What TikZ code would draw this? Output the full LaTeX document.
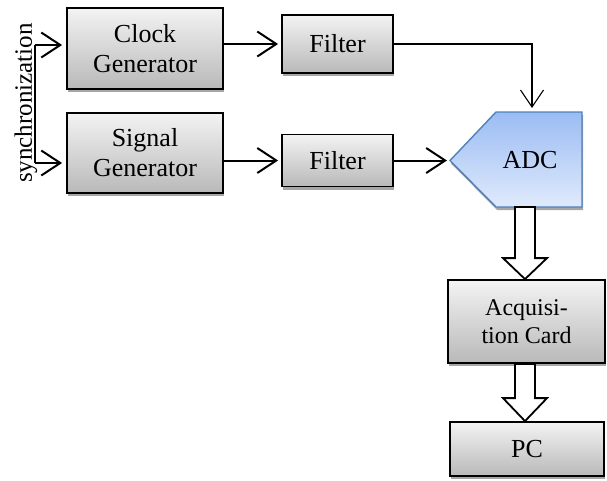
\documentclass[tikz,border=0pt]{standalone}
\usepackage{fontspec}
\setmainfont{Liberation Serif}
\usetikzlibrary{arrows.meta,shadows,calc}
\definecolor{adcborder}{RGB}{79,129,189}
\definecolor{adctop}{RGB}{155,188,243}
\definecolor{adcbot}{RGB}{224,234,252}
\definecolor{boxtop}{RGB}{243,243,243}
\definecolor{boxbot}{RGB}{185,185,185}
\begin{document}
\begin{tikzpicture}[x=1pt,y=-1pt,
  box/.style={draw=black, line width=1.8pt, top color=boxtop, bottom color=boxbot,
    inner sep=0pt, align=center, font=\fontsize{26}{30}\selectfont,
    drop shadow={shadow xshift=1pt, shadow yshift=-3pt, fill=gray!70, opacity=1}},
  thickarrow/.style={line width=2pt, -{Straight Barb[length=19pt,width=25pt]}},
  thinarrow/.style={line width=1.1pt, -{Straight Barb[length=17pt,width=23pt]}},
  blockarrow/.style={draw=black, line width=1.8pt, fill=white, line join=miter},
  txt/.style={font=\fontsize{26}{30}\selectfont, inner sep=0pt}]
\useasboundingbox (0,0) rectangle (607,480);

% boxes
\node[box, minimum width=156pt, minimum height=81pt] (clock) at (145,48.5) {Clock\\Generator};
\node[box, minimum width=156pt, minimum height=80pt] (signal) at (145,153) {Signal\\Generator};
\node[box, minimum width=111pt, minimum height=58pt] (filt1) at (337.5,44) {Filter};
\node[box, minimum width=111pt, minimum height=52pt] (filt2) at (337.5,160.5) {Filter};
\node[box, minimum width=157pt, minimum height=83pt, font=\fontsize{24}{28}\selectfont] (acq) at (526.5,321.5) {Acquisi-\\tion Card};
\node[box, minimum width=154pt, minimum height=54pt] (pc) at (527,449) {PC};

% ADC shape
\coordinate (adctip) at (450,160.5);
\coordinate (adcul) at (496,112);
\coordinate (adcur) at (582,112);
\coordinate (adclr) at (582,207);
\coordinate (adcll) at (496,207);
\coordinate (adctopin) at (532,112);
\coordinate (adcbot) at (525,207);
\fill[gray!70] ($(adctip)+(1,3)$) -- ($(adcul)+(1,3)$) -- ($(adcur)+(1,3)$) -- ($(adclr)+(1,3)$) -- ($(adcll)+(1,3)$) -- cycle;
\draw[adcborder, line width=1.4pt, top color=adctop, bottom color=adcbot, line join=miter]
  (adctip) -- (adcul) -- (adcur) -- (adclr) -- (adcll) -- cycle;
\node[txt] (adc) at (530,160) {ADC};

% synchronization
\node[txt, rotate=90, font=\fontsize{25}{30}\selectfont] (synctext) at (26,103) {synchronization};
\coordinate (s1) at (35,45);
\coordinate (s2) at (35,163);
\draw[line width=2pt] (s1) -- (s2);
\draw[thickarrow, shorten >=4pt] (s1) -- (s1 -| clock.west);
\draw[thickarrow, shorten >=4pt] (s2) -- (s2 -| signal.west);

% signal connectors
\draw[thickarrow, shorten >=3pt] (clock.east |- filt1) -- (filt1.west);
\draw[thickarrow, shorten >=3pt] (signal.east |- filt2) -- (filt2.west);
\draw[thickarrow, shorten >=3pt] (filt2.east) -- (adctip);
\draw[thinarrow, shorten >=4pt] (filt1.east) -| (adctopin);

% block arrows
\draw[blockarrow] ($(adcbot)+(-10,0)$) -- ($(adcbot |- acq.north)+(-10,-21)$) -- ($(adcbot |- acq.north)+(-22,-21)$)
  -- (adcbot |- acq.north) -- ($(adcbot |- acq.north)+(22,-21)$) -- ($(adcbot |- acq.north)+(10,-21)$)
  -- ($(adcbot)+(10,0)$) -- cycle;
\coordinate (acqb) at (adcbot |- acq.south);
\draw[blockarrow] ($(acqb)+(-10,0)$) -- ($(acqb |- pc.north)+(-10,-23)$) -- ($(acqb |- pc.north)+(-22,-23)$)
  -- (acqb |- pc.north) -- ($(acqb |- pc.north)+(22,-23)$) -- ($(acqb |- pc.north)+(10,-23)$)
  -- ($(acqb)+(10,0)$) -- cycle;
\end{tikzpicture}
\end{document}
